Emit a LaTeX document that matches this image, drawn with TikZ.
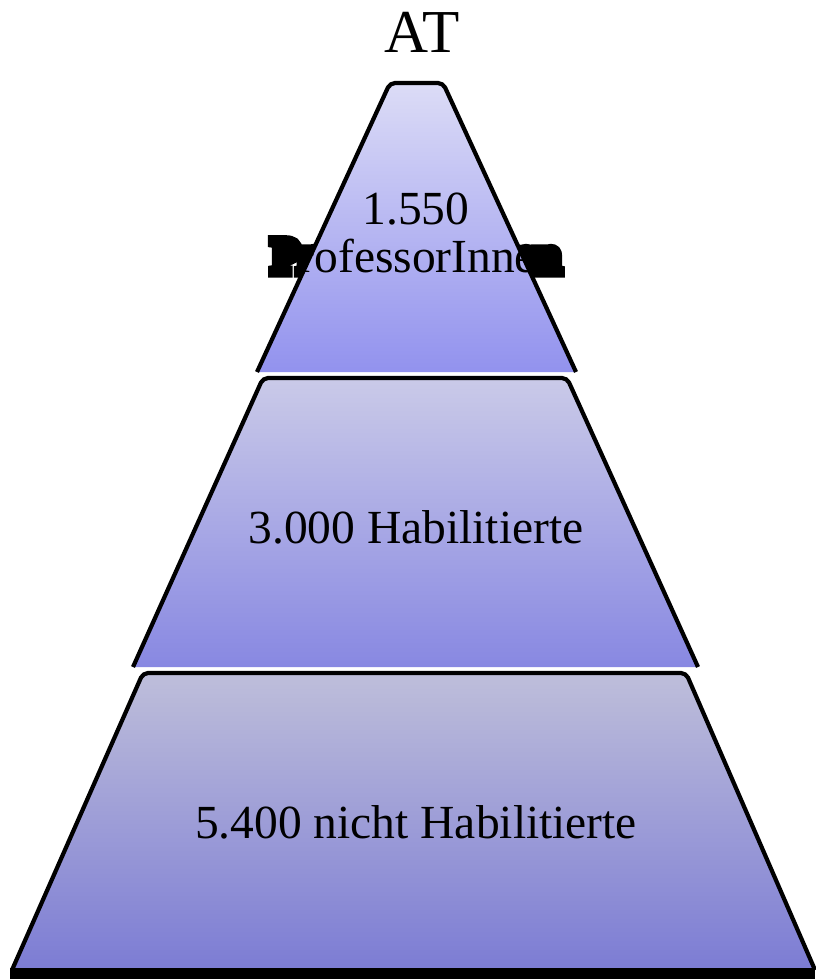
\documentclass[tikz,border=0pt]{standalone}
\usepackage{fontspec}
\setmainfont{Liberation Serif}
\font\blobfnt="Liberation Serif:embolden=24" at 47.5pt
\begin{document}
\begin{tikzpicture}[x=1pt,y=-1pt,
  edge/.style={draw=black, line width=4.2pt, line join=round, rounded corners=5pt},
  lbl/.style={font=\fontsize{47.5}{56}\selectfont, inner sep=0pt, anchor=base, text=black},
  blob/.style={inner sep=0pt, anchor=base, text=black, font=\blobfnt}]
\useasboundingbox (0,0) rectangle (815,979);
% corner points
\coordinate (tbl) at (257,372); \coordinate (ttl) at (390,83);
\coordinate (ttr) at (443,83);  \coordinate (tbr) at (576,372);
\coordinate (mbl) at (133,667); \coordinate (mtl) at (263,378);
\coordinate (mtr) at (567,378); \coordinate (mbr) at (698,667);
\coordinate (bbl) at (12,970);  \coordinate (btl) at (143,673);
\coordinate (btr) at (686,673); \coordinate (bbr) at (815,970);

% title
\node[lbl, font=\fontsize{61}{64}\selectfont] (title) at (422,53) {AT};

% black blob behind the top label
\node[blob] (blobtxt) at (416,272) {ProfessorInnen};

% top segment
\shade[top color={rgb,255:red,220;green,220;blue,246}, bottom color={rgb,255:red,146;green,146;blue,238}, rounded corners=5pt]
  (tbl) -- (ttl) -- (ttr) -- (tbr);
\draw[edge] (tbl) -- (ttl) -- (ttr) -- (tbr);

% middle segment
\shade[top color={rgb,255:red,202;green,202;blue,232}, bottom color={rgb,255:red,136;green,136;blue,226}, rounded corners=5pt]
  (mbl) -- (mtl) -- (mtr) -- (mbr);
\draw[edge] (mbl) -- (mtl) -- (mtr) -- (mbr);

% bottom segment
\shade[top color={rgb,255:red,190;green,190;blue,218}, bottom color={rgb,255:red,124;green,124;blue,212}, rounded corners=5pt]
  (bbl) -- (btl) -- (btr) -- (bbr);
\draw[edge] (bbl) -- (btl) -- (btr) -- (bbr);
\fill[black] (10,968) rectangle (815,979);

% labels
\node[lbl] (top1) at (416,224) {1.550};
\node[lbl] (top2) at (416,272) {ProfessorInnen};
\node[lbl] (mid) at (416,543) {3.000 Habilitierte};
\node[lbl] (bot) at (416,838) {5.400 nicht Habilitierte};
\end{tikzpicture}
\end{document}
